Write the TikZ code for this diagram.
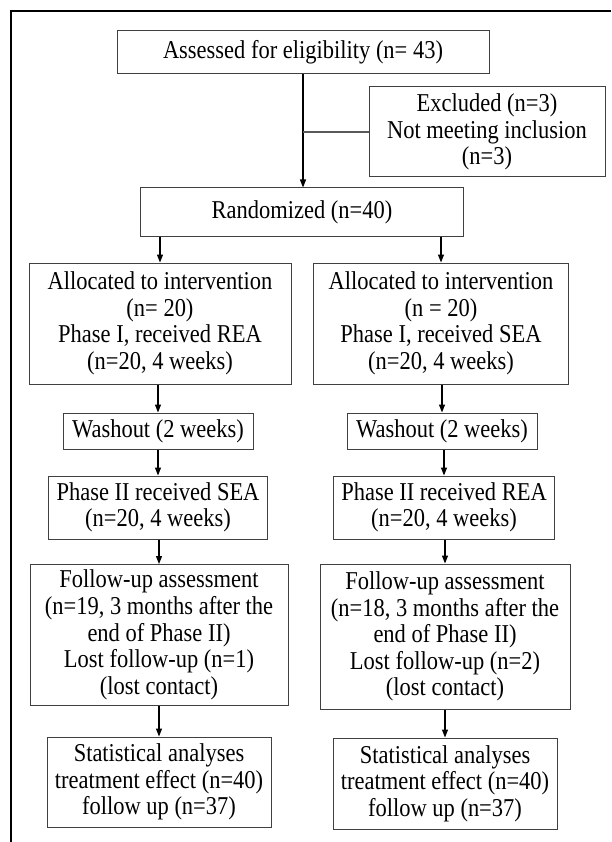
\documentclass[tikz,border=0pt]{standalone}
\usepackage{fontspec}
\setmainfont{Liberation Serif}[FakeStretch=0.875]
\usetikzlibrary{positioning, arrows.meta}

\begin{document}
\begin{tikzpicture}[x=1pt, y=-1pt,
  box/.style={rectangle, draw=black!75, line width=1pt, fill=white, inner sep=0pt, font=\fontsize{25.7}{26.6}\selectfont, align=center},
  arrow/.style={-{Triangle[length=8pt, width=6pt]}, line width=1.3pt, black},
  link/.style={line width=1.1pt, black!65}
]
\useasboundingbox (0,0) rectangle (611,842);
\draw[line width=2pt] (11,842) -- (11,11) -- (611,11);

\node[box, minimum width=372pt, minimum height=43pt] (assess) at (303,52.5) {Assessed for eligibility (n= 43)};
\node[box, minimum width=236pt, minimum height=90pt] (excl) at (487,132) {Excluded (n=3)\\Not meeting inclusion\\(n=3)};
\node[box, minimum width=323pt, minimum height=48pt] (rand) at (302,212) {Randomized (n=40)};

\node[box, minimum width=262pt, minimum height=121pt] (allocA) at (160,323.5) {Allocated to intervention\\(n= 20)\\Phase I, received REA\\(n=20, 4 weeks)};
\node[box, minimum width=255pt, minimum height=121pt] (allocB) at (441,323.5) {Allocated to intervention\\(n = 20)\\Phase I, received SEA\\(n=20, 4 weeks)};

\node[box, minimum width=190pt, minimum height=36pt] (washA) at (158,431) {Washout (2 weeks)};
\node[box, minimum width=190pt, minimum height=36pt] (washB) at (442,431) {Washout (2 weeks)};

\node[box, minimum width=219pt, minimum height=63pt] (phaseA) at (158,507.5) {Phase II received SEA\\(n=20, 4 weeks)};
\node[box, minimum width=221pt, minimum height=63pt] (phaseB) at (444,507.5) {Phase II received REA\\(n=20, 4 weeks)};

\node[box, minimum width=258pt, minimum height=141pt] (followA) at (159,635) {Follow-up assessment\\(n=19, 3 months after the\\end of Phase II)\\Lost follow-up (n=1)\\(lost contact)};
\node[box, minimum width=250pt, minimum height=145pt] (followB) at (445,636.5) {Follow-up assessment\\(n=18, 3 months after the\\end of Phase II)\\Lost follow-up (n=2)\\(lost contact)};

\node[box, minimum width=224pt, minimum height=90pt] (statA) at (159,782) {Statistical analyses\\treatment effect (n=40)\\follow up (n=37)};
\node[box, minimum width=224pt, minimum height=91pt] (statB) at (445,783.5) {Statistical analyses\\treatment effect (n=40)\\follow up (n=37)};

\coordinate (split) at (assess.south |- excl.west);
\draw[arrow] (assess.south) -- (assess.south |- rand.north);
\draw[link] (split) -- (excl.west);

\draw[arrow] (rand.south -| allocA.north) -- (allocA.north);
\draw[arrow] (rand.south -| allocB.north) -- (allocB.north);

\draw[arrow] (allocA.south -| washA.north) -- (washA.north);
\draw[arrow] (allocB.south -| washB.north) -- (washB.north);
\draw[arrow] (washA.south -| phaseA.north) -- (phaseA.north);
\draw[arrow] (washB.south -| phaseB.north) -- (phaseB.north);
\draw[arrow] (phaseA.south -| followA.north) -- (followA.north);
\draw[arrow] (phaseB.south -| followB.north) -- (followB.north);
\draw[arrow] (followA.south -| statA.north) -- (statA.north);
\draw[arrow] (followB.south -| statB.north) -- (statB.north);
\end{tikzpicture}
\end{document}
